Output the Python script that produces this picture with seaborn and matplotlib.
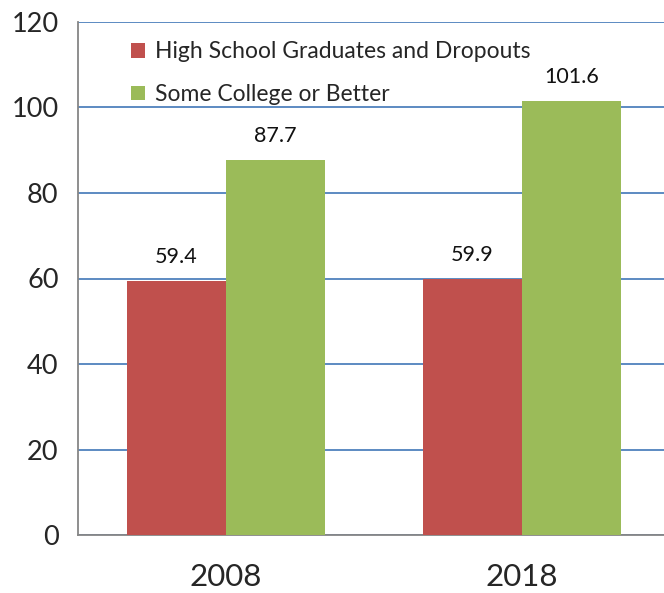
import pandas as pd
import numpy as np
import seaborn as sns
import matplotlib.pyplot as plt

# chart data
years = ['2008', '2018']
groups = ['High School Graduates and Dropouts', 'Some College or Better']
hs_values = [59.4, 59.9]
college_values = [87.7, 101.6]
y_ticks = [0, 20, 40, 60, 80, 100, 120]

df = pd.DataFrame({
    'year': years * 2,
    'group': [groups[0]] * 2 + [groups[1]] * 2,
    'value': hs_values + college_values,
})

sns.set_style('white')
plt.rcParams['font.family'] = ['Lato', 'DejaVu Sans']

fig = plt.figure(figsize=(6.64, 5.93), dpi=100)
ax = fig.add_axes([78 / 664, 58 / 593, 1 - 78 / 664, (535 - 22) / 593])

palette = ['#C0504D', '#9BBB59']
sns.barplot(data=df, x='year', y='value', hue='group', palette=palette,
            width=0.67, saturation=1, ax=ax, zorder=3, edgecolor='none')

for container in ax.containers:
    ax.bar_label(container, fmt='%.1f', padding=10, fontsize=15.5, color='#111111')

ax.set_ylim(0, 120)
ax.set_yticks(y_ticks)
ax.set_xlim(-0.5, 1.48)
ax.set_xlabel('')
ax.set_ylabel('')

# grid lines in Excel blue
ax.yaxis.grid(True, color='#4F81BD', linewidth=1.3, zorder=0)
ax.xaxis.grid(False)
ax.set_axisbelow(True)

for side in ['top', 'right']:
    ax.spines[side].set_visible(False)
for side in ['left', 'bottom']:
    ax.spines[side].set_color('#868686')
    ax.spines[side].set_linewidth(1.3)

ax.tick_params(axis='y', labelsize=19.5, length=6, width=1.3, color='#868686', direction='out', pad=8)
ax.tick_params(axis='x', labelsize=22.5, length=0, pad=20)
ax.set_xticks([-0.5, 0.5], minor=True)
ax.tick_params(axis='x', which='minor', length=6, width=1.3, color='#868686', direction='out')

ax.legend(loc='upper left', bbox_to_anchor=(0.075, 0.98), frameon=False, fontsize=16.5,
          handlelength=0.6, handleheight=0.6, handletextpad=0.45, labelspacing=0.95,
          borderaxespad=0)

plt.savefig('out.png', dpi=100)
